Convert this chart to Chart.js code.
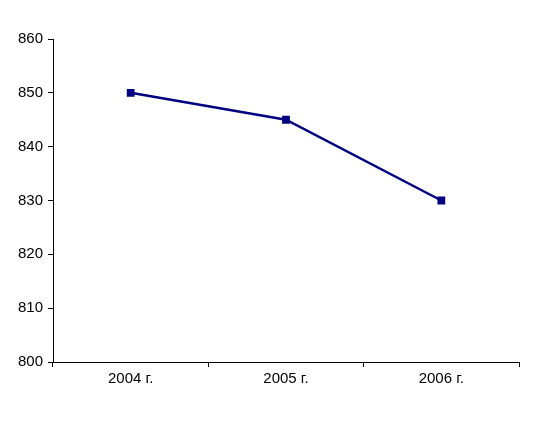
<!DOCTYPE html>
<html>
<head>
<meta charset="utf-8">
<script src="https://cdn.jsdelivr.net/npm/chart.js@4"></script>
<style>
  html, body { margin: 0; padding: 0; background: #fff; }
  #wrap { width: 536px; height: 427px; }
</style>
</head>
<body>
<div id="wrap"><canvas id="line-chart"></canvas></div>
<script>
// data
var years = ["2004 г.", "2005 г.", "2006 г."];
var values = [850, 845, 830];
var yMin = 800, yMax = 860, yStep = 10;

new Chart(document.getElementById("line-chart"), {
    type: 'line',
    data: {
        labels: years,
        datasets: [{
            data: values,
            borderColor: "#000080",
            backgroundColor: "#000080",
            borderWidth: 2.5,
            pointStyle: 'rect',
            pointRadius: 5.5,
            pointHoverRadius: 5.5,
            pointBorderWidth: 0,
            fill: false,
            tension: 0
        }]
    },
    options: {
        responsive: true,
        maintainAspectRatio: false,
        animation: false,
        devicePixelRatio: 1,
        layout: { padding: { left: 0, right: 17, top: 39, bottom: 35 } },
        plugins: {
            legend: { display: false },
            tooltip: { enabled: false }
        },
        scales: {
            x: {
                offset: true,
                grid: {
                    display: true,
                    drawOnChartArea: false,
                    tickLength: 5,
                    color: "#000",
                    offset: true
                },
                border: { color: "#000", width: 1 },
                ticks: {
                    color: "#000",
                    padding: 3,
                    maxRotation: 0,
                    font: { family: "Liberation Sans, Arial, sans-serif", size: 15 }
                },
                afterFit: function (scale) { scale.height = 30; }
            },
            y: {
                min: yMin,
                max: yMax,
                grid: {
                    display: true,
                    drawOnChartArea: false,
                    tickLength: 5,
                    color: "#000"
                },
                border: { color: "#000", width: 1 },
                ticks: {
                    stepSize: yStep,
                    color: "#000",
                    padding: 5,
                    font: { family: "Liberation Sans, Arial, sans-serif", size: 15 }
                },
                afterFit: function (scale) { scale.width = 53; }
            }
        }
    }
});
</script>
</body>
</html>
